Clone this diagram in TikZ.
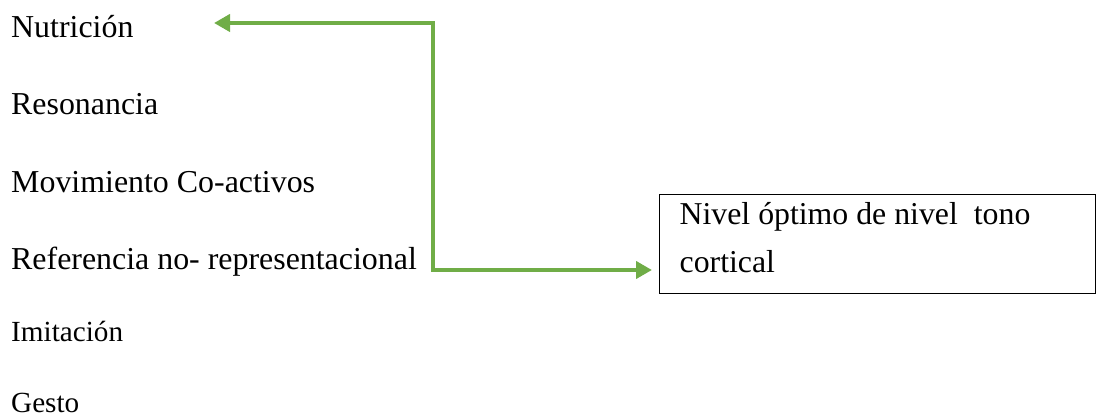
\documentclass[tikz,border=0pt]{standalone}
\usepackage{fontspec}
\setmainfont{Liberation Serif}
\usetikzlibrary{arrows.meta}
\definecolor{leafgreen}{HTML}{70AD47}
\begin{document}
\begin{tikzpicture}[x=1pt,y=-1pt,
  item/.style={anchor=base west,inner sep=0pt,font=\fontsize{31.9}{36}\selectfont},
  smallitem/.style={item,font=\fontsize{29.2}{33}\selectfont},
  tonebox/.style={draw=black,line width=1.3pt,anchor=north west,inner xsep=20pt,inner ysep=0pt,
    text width=396pt,align=flush left,font=\fontsize{31.8}{47.4}\selectfont},
  link/.style={leafgreen,line width=4.3pt,line join=miter,
    {Triangle[length=16pt,width=17pt]}-{Triangle[length=16pt,width=17pt]}}]
  \useasboundingbox (0,0) rectangle (1096,417);

  % list of factors
  \node[item] (nut) at (11,37.7) {Nutrición};
  \node[item] (reso) at (11,114.3) {Resonancia};
  \node[item] (mov) at (11,192.7) {Movimiento Co-activos};
  \node[item] (ref) at (11,269.3) {Referencia no- representacional};
  \node[smallitem] (imi) at (11,341.7) {Imitación};
  \node[smallitem] (ges) at (11,412.3) {Gesto};

  % result box
  \node[tonebox] (box) at (659,194)
    {\rule{0pt}{30.3pt}Nivel óptimo de nivel\hspace{16pt}tono\\cortical\rule[-21.3pt]{0pt}{21.3pt}};

  % connector
  \coordinate (nuttip) at (214,23);
  \coordinate (jn) at (433,270);
  \draw[link,shorten >=7pt] (nuttip) -| (jn) -- (jn -| box.west);
\end{tikzpicture}
\end{document}
